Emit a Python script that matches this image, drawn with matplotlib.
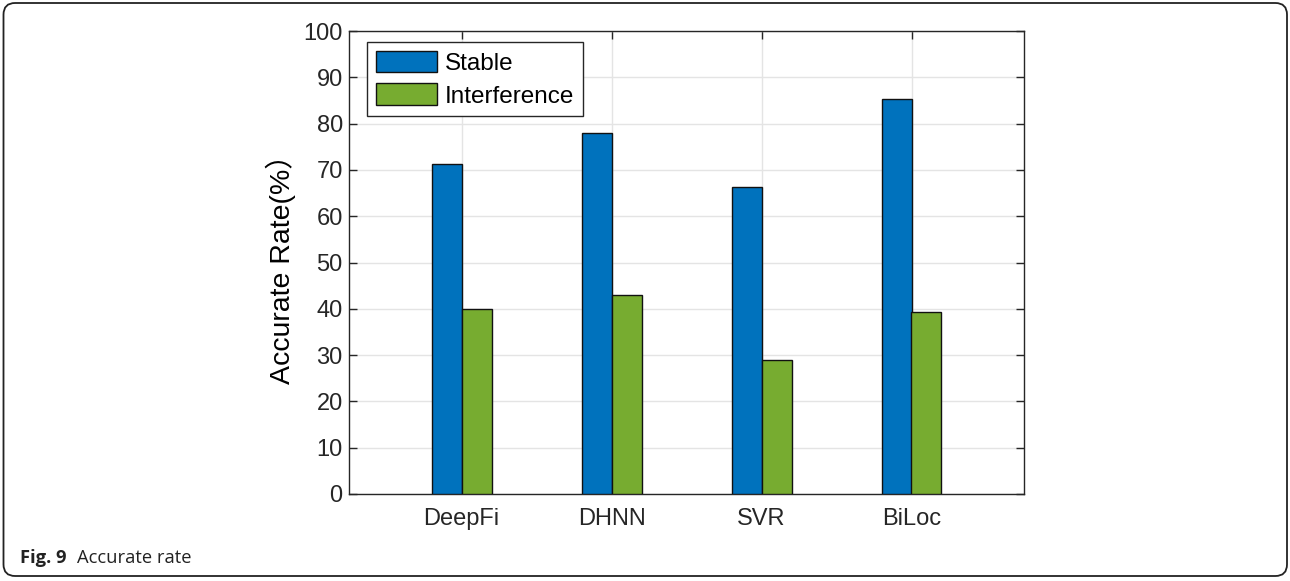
import matplotlib
matplotlib.use("Agg")
import matplotlib.pyplot as plt
from matplotlib.patches import FancyBboxPatch
import numpy as np

categories = ["DeepFi", "DHNN", "SVR", "BiLoc"]
stable = [71.2, 78.0, 66.2, 85.4]
interference = [40.0, 43.0, 28.9, 39.4]
y_ticks = [0, 10, 20, 30, 40, 50, 60, 70, 80, 90, 100]

W, H = 1290, 581
fig = plt.figure(figsize=(W / 100, H / 100), dpi=100)
plt.rcParams["font.family"] = ["Liberation Sans", "Noto Sans CJK SC", "DejaVu Sans"]

# rounded frame around the figure panel
frame = FancyBboxPatch((3.5 / W, 5 / H), (1287 - 3.5) / W, (578 - 5) / H,
                       boxstyle="round,pad=0,rounding_size=0.009",
                       transform=fig.transFigure, facecolor="none",
                       edgecolor="#222222", linewidth=1.3, mutation_aspect=W / H)
fig.patches.append(frame)

ax = fig.add_axes([349 / W, (H - 494) / H, (1024 - 349) / W, (494 - 31) / H])
x = np.arange(1, len(categories) + 1)
w = 0.2
ax.bar(x - w / 2, stable, width=w, color="#0072BD", edgecolor="#111111",
       linewidth=1.0, label="Stable", zorder=3)
ax.bar(x + w / 2, interference, width=w, color="#77AC30", edgecolor="#111111",
       linewidth=1.0, label="Interference", zorder=3)

ax.set_xlim(0.25, 4.75)
ax.set_ylim(0, 100)
ax.set_xticks(x)
ax.set_xticklabels(categories, fontsize=17)
ax.set_yticks(y_ticks)
ax.set_yticklabels([str(v) for v in y_ticks], fontsize=17)
ax.set_ylabel("Accurate Rate(%\uff09", fontsize=20.5, labelpad=5)

ax.grid(True, color="#e4e4e4", linewidth=1.0, zorder=0)
ax.set_axisbelow(True)
ax.tick_params(direction="in", length=5.5, width=1.0, color="#262626",
               top=True, right=True, labelcolor="#262626")
ax.tick_params(axis="x", pad=10)
ax.tick_params(axis="y", pad=4.5)
for s in ax.spines.values():
    s.set_color("#262626")
    s.set_linewidth(1.0)

leg = ax.legend(loc="upper left", bbox_to_anchor=(18 / 675, 1 - 11 / 463),
                fontsize=17.5, frameon=True, fancybox=False, framealpha=1,
                edgecolor="#262626", handlelength=2.55, handleheight=1.0,
                borderaxespad=0, borderpad=0.35, labelspacing=0.36,
                handletextpad=0.3)
leg.get_frame().set_linewidth(1.0)

fig.text(20 / W, (H - 558) / H, "Fig. 9", fontsize=13.2, fontweight="bold",
         family=["Open Sans", "DejaVu Sans"], va="center", ha="left", color="#222222")
fig.text(77 / W, (H - 558) / H, "Accurate rate", fontsize=13.2,
         family=["Open Sans", "DejaVu Sans"], va="center", ha="left", color="#222222")

fig.savefig("out.png", dpi=100)
